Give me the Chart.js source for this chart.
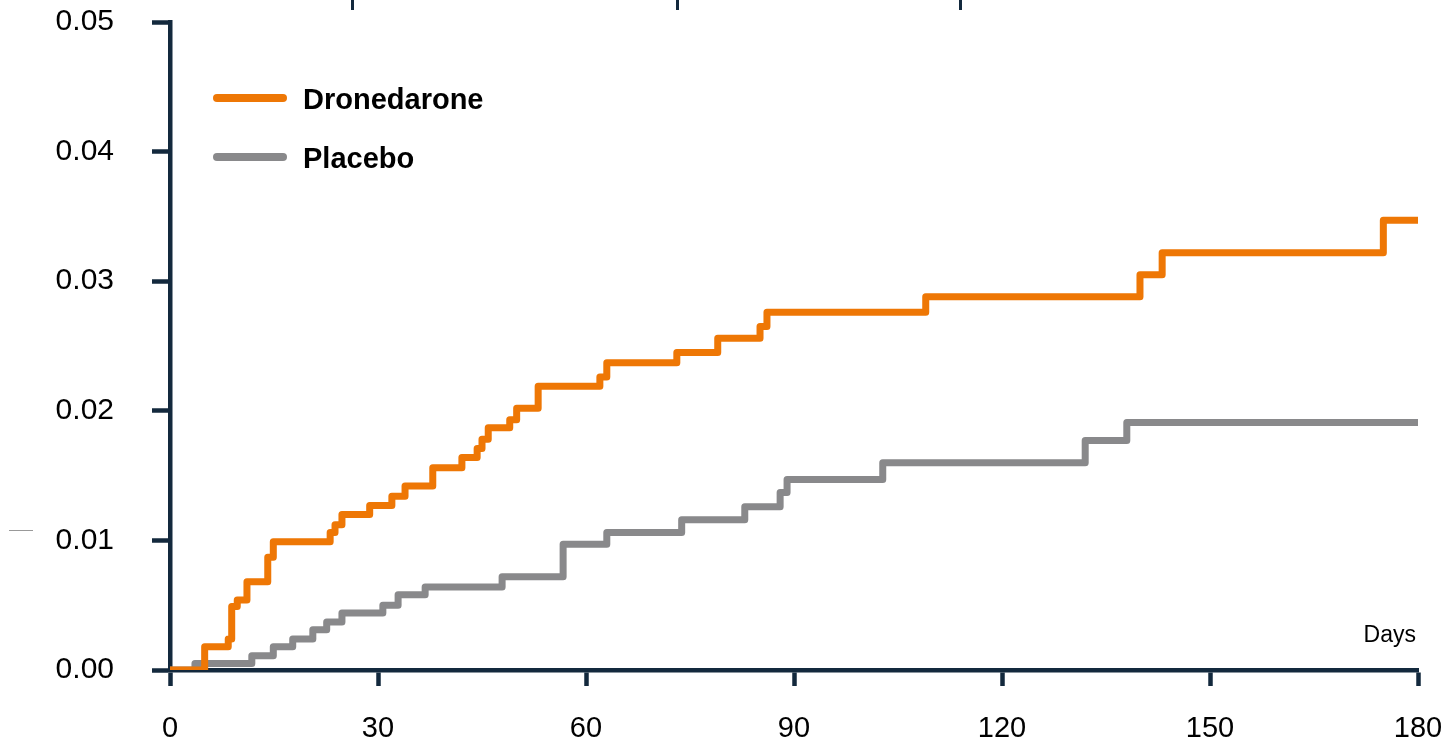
<!DOCTYPE html>
<html>
<head>
<meta charset="utf-8">
<script src="https://cdn.jsdelivr.net/npm/chart.js@4"></script>
<style>
  html, body { margin: 0; padding: 0; background: #fff; }
  #wrap { position: relative; width: 1443px; height: 741px; }
  .cut { position: absolute; top: 0; width: 3px; height: 10px; background: #13293d; }
  .dash { position: absolute; left: 9px; top: 530px; width: 24px; height: 1px; background: #999; }
</style>
</head>
<body>
<div id="wrap">
  <canvas id="km"></canvas>
  <!-- remnants of the table cropped off above the chart -->
  <div class="cut" style="left:351px"></div>
  <div class="cut" style="left:676px"></div>
  <div class="cut" style="left:959px"></div>
  <div class="dash"></div>
</div>
<script>
// cumulative incidence, step points (day, value after the step)
var dronDays = [0, 5.0, 8.4, 8.9, 9.7, 11.1, 14.1, 14.9, 23.1, 23.8, 24.8, 28.8, 32.0, 33.9, 37.9,
  42.1, 44.3, 45.0, 45.9, 49.0, 50.0, 53.1, 62.0, 63.0, 73.1, 79.0, 85.1, 86.1, 109.0,
  139.9, 143.1, 175.0, 180];
var dronVals = [0, 0.0018, 0.0024, 0.0049, 0.0054, 0.0068, 0.0087, 0.0099, 0.0106, 0.0112, 0.0120,
  0.0127, 0.0134, 0.0142, 0.0156, 0.0164, 0.0171, 0.0178, 0.0187, 0.0193, 0.0202, 0.0219,
  0.0226, 0.0237, 0.0245, 0.0256, 0.0265, 0.0276, 0.0288, 0.0305, 0.0322, 0.0347, 0.0347];

var placDays = [0, 3.6, 11.8, 14.9, 17.7, 20.6, 22.6, 24.8, 30.7, 32.9, 36.8, 47.9, 56.7, 63.0,
  73.8, 82.9, 88.0, 89.0, 102.8, 132.0, 138.0, 180];
var placVals = [0, 0.0005, 0.0011, 0.0018, 0.0024, 0.0031, 0.0037, 0.0044, 0.0050, 0.0058, 0.0064,
  0.0072, 0.0097, 0.0106, 0.0116, 0.0126, 0.0137, 0.0147, 0.0160, 0.0177, 0.0191, 0.0191];

var xTicks = [0, 30, 60, 90, 120, 150, 180];
var yTicks = [0, 0.01, 0.02, 0.03, 0.04, 0.05];

var ORANGE = '#ee7705';
var GREY = '#89898b';
var AXIS = '#13293d';
var FONT = '"Liberation Sans", Arial, sans-serif';

function toPoints(days, vals) {
  return days.map(function (d, i) { return { x: d, y: vals[i] }; });
}

// legend drawn inside the plot, top-left, from the dataset styles
var innerLegend = {
  id: 'innerLegend',
  afterDraw: function (chart) {
    var c = chart.ctx;
    var a = chart.chartArea;
    c.save();
    c.font = 'bold 29px ' + FONT;
    c.textBaseline = 'alphabetic';
    chart.data.datasets.forEach(function (ds, i) {
      var y = a.top + 76 + i * 59;
      c.strokeStyle = ds.borderColor;
      c.lineWidth = 8;
      c.lineCap = 'round';
      c.beginPath();
      c.moveTo(a.left + 47, y);
      c.lineTo(a.left + 113, y);
      c.stroke();
      c.fillStyle = '#000';
      c.fillText(ds.label, a.left + 133, y + 11);
    });
    // x axis caption
    c.font = '23px ' + FONT;
    c.textAlign = 'right';
    c.fillText('Days', a.right - 2, a.bottom - 28);
    c.restore();
  }
};

// let layout.padding alone decide the plot edges
function noEdgePad(s) {
  s.paddingTop = 0; s.paddingBottom = 0; s.paddingLeft = 0; s.paddingRight = 0;
}

new Chart(document.getElementById('km'), {
  type: 'line',
  data: {
    datasets: [{
      label: 'Dronedarone',
      data: toPoints(dronDays, dronVals),
      borderColor: ORANGE, borderWidth: 7,
      stepped: 'before', pointRadius: 0,
      borderJoinStyle: 'round', borderCapStyle: 'round', fill: false
    }, {
      label: 'Placebo',
      data: toPoints(placDays, placVals),
      borderColor: GREY, borderWidth: 7,
      stepped: 'before', pointRadius: 0,
      borderJoinStyle: 'round', borderCapStyle: 'round', fill: false
    }]
  },
  options: {
    responsive: true, maintainAspectRatio: false, animation: false,
    layout: { padding: { top: 22, right: 25, left: 0, bottom: 0 } },
    plugins: { legend: { display: false }, tooltip: { enabled: false } },
    scales: {
      x: {
        type: 'linear', min: 0, max: 180,
        afterBuildTicks: function (s) { s.ticks = xTicks.map(function (v) { return { value: v }; }); },
        afterFit: function (s) { s.height = 71; noEdgePad(s); },
        border: { display: true, color: AXIS, width: 4.5 },
        grid: { drawOnChartArea: false, drawTicks: true, tickLength: 16, tickWidth: 4.5, tickColor: AXIS },
        ticks: { color: '#000', font: { family: FONT, size: 29 }, padding: 26, maxRotation: 0 }
      },
      y: {
        type: 'linear', min: 0, max: 0.05,
        afterBuildTicks: function (s) { s.ticks = yTicks.map(function (v) { return { value: v }; }); },
        afterFit: function (s) { s.width = 170; noEdgePad(s); },
        border: { display: true, color: AXIS, width: 4.5 },
        grid: { drawOnChartArea: false, drawTicks: true, tickLength: 18, tickWidth: 4.5, tickColor: AXIS },
        ticks: {
          color: '#000', font: { family: FONT, size: 30 }, padding: 38,
          callback: function (v) { return Number(v).toFixed(2); }
        }
      }
    }
  },
  plugins: [innerLegend]
});
</script>
</body>
</html>
